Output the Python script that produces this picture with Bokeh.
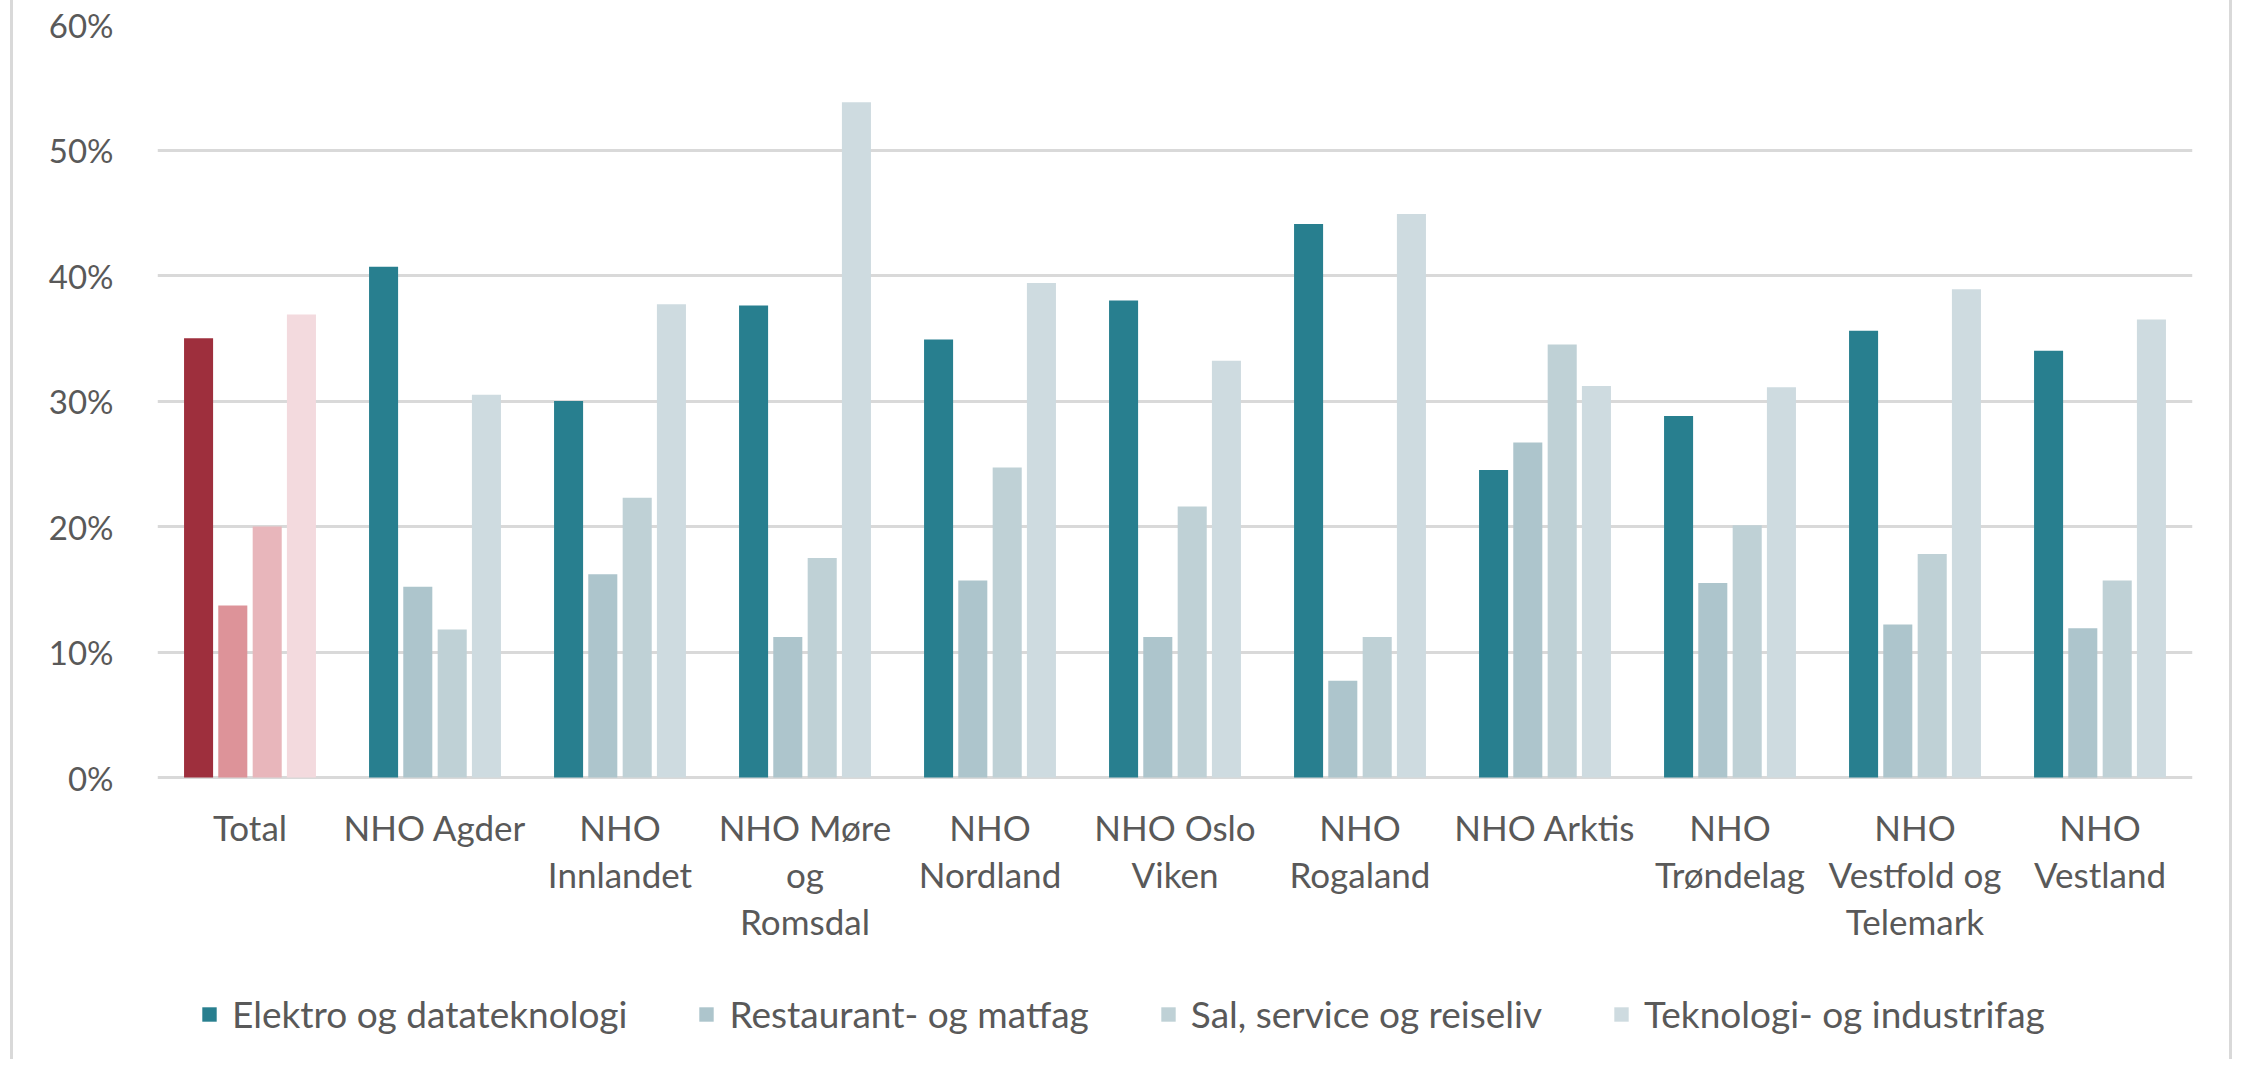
from bokeh.plotting import figure
from bokeh.models import (ColumnDataSource, FactorRange, Range1d, Legend, LegendItem,
                          PrintfTickFormatter, FixedTicker)
from bokeh.core.properties import value
from bokeh.transform import dodge
from bokeh.embed import file_html
from bokeh.resources import INLINE

# ---------------- data ----------------
categories = ["Total", "NHO Agder", "NHO\nInnlandet", "NHO Møre\nog\nRomsdal",
              "NHO\nNordland", "NHO Oslo\nViken", "NHO\nRogaland", "NHO Arktis",
              "NHO\nTrøndelag", "NHO\nVestfold og\nTelemark", "NHO\nVestland"]
series_names = ["Elektro og datateknologi", "Restaurant- og matfag",
                "Sal, service og reiseliv", "Teknologi- og industrifag"]
elektro = [35.0, 40.7, 30.0, 37.6, 34.9, 38.0, 44.1, 24.5, 28.8, 35.6, 34.0]
restaurant = [13.7, 15.2, 16.2, 11.2, 15.7, 11.2, 7.7, 26.7, 15.5, 12.2, 11.9]
sal = [20.0, 11.8, 22.3, 17.5, 24.7, 21.6, 11.2, 34.5, 20.1, 17.8, 15.7]
teknologi = [36.9, 30.5, 37.7, 53.8, 39.4, 33.2, 44.9, 31.2, 31.1, 38.9, 36.5]
y_ticks = [0, 10, 20, 30, 40, 50, 60]

region_colors = ["#287F8F", "#ADC5CC", "#BFD1D6", "#CEDBE0"]
total_colors = ["#9E2F3D", "#DD9399", "#E8B6BB", "#F3DADE"]
TEXT = "#595959"
GRID = "#D9D9D9"
FONT = "Lato"

values = [elektro, restaurant, sal, teknologi]
offsets = [-0.278, -0.093, 0.093, 0.278]
bar_w = 0.157

# layout (pixels)
W, H = 2236, 1059
TOP, LEFT, RIGHT = 24, 157, 44
PLOT_H = 753              # height of the 0..60 % band
BELOW = H - TOP - PLOT_H  # room for category labels and legend inside the frame
y_max = 60
y_min = -y_max * BELOW / PLOT_H
px_per_unit = PLOT_H / y_max

p = figure(x_range=FactorRange(*categories, range_padding=0), y_range=Range1d(y_min, y_max),
           width=W, height=H, output_backend="svg", toolbar_location=None,
           min_border_left=LEFT, min_border_right=RIGHT, min_border_top=TOP, min_border_bottom=0)
p.outline_line_color = None
p.background_fill_color = "white"
p.border_fill_alpha = 0
p.styles = {"background": "linear-gradient(to right, #ffffff 10px, #D9D9D9 10px, #D9D9D9 13px, "
                          "#ffffff 13px, #ffffff 2229px, #D9D9D9 2229px, #D9D9D9 2232px, "
                          "#ffffff 2232px)"}

items = []
for i, (name, vals) in enumerate(zip(series_names, values)):
    src_total = ColumnDataSource(dict(x=categories[:1], y=vals[:1]))
    src_reg = ColumnDataSource(dict(x=categories[1:], y=vals[1:]))
    p.vbar(x=dodge("x", offsets[i], range=p.x_range), top="y", width=bar_w,
           source=src_total, fill_color=total_colors[i], line_color=None)
    r = p.vbar(x=dodge("x", offsets[i], range=p.x_range), top="y", width=bar_w,
               source=src_reg, fill_color=region_colors[i], line_color=None)
    items.append(LegendItem(label=name, renderers=[r]))

# category labels under the 0 % line
label_src = ColumnDataSource(dict(x=categories, t=categories,
                                  y=[-28 / px_per_unit] * len(categories)))
p.text(x="x", y="y", text="t", source=label_src, text_align="center",
       text_baseline="top", text_font=value(FONT), text_font_size="35px",
       text_color=TEXT, text_line_height=1.13)

# axes
p.yaxis.ticker = FixedTicker(ticks=y_ticks)
p.yaxis.formatter = PrintfTickFormatter(format="%d%%")
p.yaxis.axis_line_color = None
p.yaxis.major_tick_line_color = None
p.yaxis.minor_tick_line_color = None
p.yaxis.major_label_standoff = 38
p.yaxis.major_label_text_font = FONT
p.yaxis.major_label_text_font_size = "33px"
p.yaxis.major_label_text_color = TEXT
p.xaxis.visible = False

p.xgrid.grid_line_color = None
p.ygrid.grid_line_color = GRID
p.ygrid.grid_line_width = 3

legend = Legend(items=items, orientation="horizontal", location=(43, 23),
                label_text_font=FONT, label_text_font_size="37px", label_text_color=TEXT,
                glyph_width=18, glyph_height=18, label_standoff=14, spacing=70,
                padding=0, margin=0, border_line_color=None, background_fill_alpha=0)
p.add_layout(legend, "center")

open("out.html", "w").write(file_html(p, INLINE))
